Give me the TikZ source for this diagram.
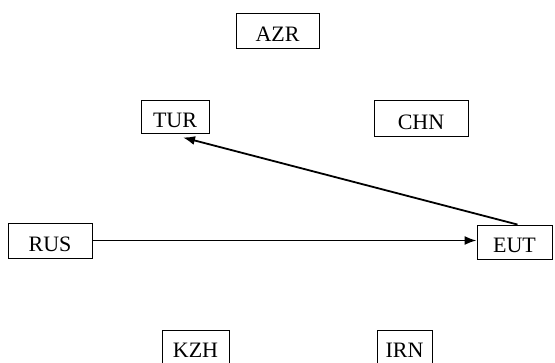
\documentclass[tikz,border=0pt]{standalone}
\usepackage{fontspec}
\setmainfont{Liberation Serif}
\usetikzlibrary{arrows.meta,calc}
\begin{document}
\begin{tikzpicture}[x=1pt,y=-1pt,
  country/.style={draw,line width=0.9pt,inner sep=0pt,minimum height=34pt,
    text height=21pt,text depth=0pt,font=\fontsize{22}{24}\selectfont},
  link/.style={line width=1.8pt,-{Latex[length=12pt,width=9pt]}}]
\useasboundingbox (0,0) rectangle (555,362);
\node[country,minimum width=83pt,minimum height=35pt] (AZR) at (277.5,30.5) {AZR};
\node[country,minimum width=68pt,minimum height=33pt] (TUR) at (175,116.5) {TUR};
\node[country,minimum width=94pt,minimum height=36pt] (CHN) at (421,118.5) {CHN};
\node[country,minimum width=84pt,minimum height=35pt] (RUS) at (50,240.5) {RUS};
\node[country,minimum width=75pt] (EUT) at (514.5,242) {EUT};
\node[country,minimum width=67pt] (KZH) at (195.5,347) {KZH};
\node[country,minimum width=55pt] (IRN) at (404.5,347) {IRN};
\draw[link] (RUS.east) -- (RUS.east -| EUT.west);
\draw[link] ($(EUT.north)+(3,0)$) -- ($(TUR.south)+(8,4)$);
\end{tikzpicture}
\end{document}
